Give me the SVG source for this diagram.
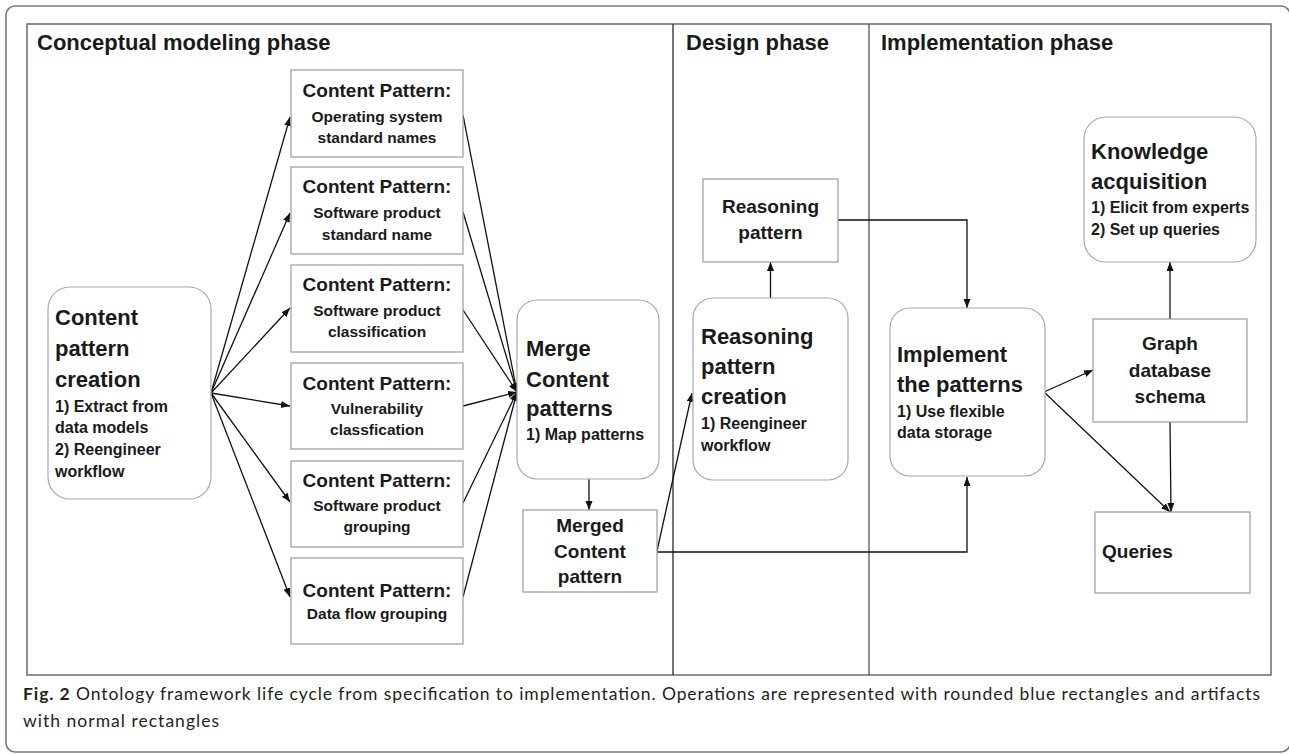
<svg xmlns="http://www.w3.org/2000/svg" width="1289" height="754" viewBox="0 0 1289 754">
  <style>
    .frame { fill: none; stroke: #6a6a6a; stroke-width: 1.5; }
    .outer { fill: none; stroke: #7a7a7a; stroke-width: 1.6; }
    .divider { stroke: #2a2a2a; stroke-width: 1.3; }
    .divider2 { stroke: #555; stroke-width: 1.3; }
    .op { fill: #fff; stroke: #a8a8a8; stroke-width: 1.2; }
    .art { fill: #fff; stroke: #9c9c9c; stroke-width: 1.2; }
    .conn { fill: none; stroke: #111; stroke-width: 1.3; }
    text { font-family: "Liberation Sans", Arial, sans-serif; font-weight: bold; fill: #1a1a1a; }
    .phase { font-size: 22px; }
    .big { font-size: 22px; }
    .mid { font-size: 19px; }
    .sub { font-size: 16px; }
    .cps { font-size: 15.5px; }
    .c { text-anchor: middle; }
    .cap { font-family: Lato, "Open Sans", "Liberation Sans", sans-serif; font-weight: normal; font-size: 17.5px; fill: #231f20; }
  </style>
  <defs>
    <marker id="arrow" markerUnits="userSpaceOnUse" markerWidth="10" markerHeight="8" refX="9" refY="3.5" orient="auto">
      <path d="M0,0 L9,3.5 L0,7 z" fill="#111"/>
    </marker>
  </defs>

  <!-- figure frame and phase lanes -->
  <rect class="outer" x="6" y="6" width="1284" height="746" rx="9"/>
  <rect class="frame" x="27" y="24" width="1244" height="651"/>
  <line class="divider" x1="673" y1="24" x2="673" y2="675"/>
  <line class="divider2" x1="869" y1="24" x2="869" y2="675"/>
  <text class="phase" x="37" y="50">Conceptual modeling phase</text>
  <text class="phase" x="686" y="50">Design phase</text>
  <text class="phase" x="881" y="50">Implementation phase</text>

  <!-- connectors -->
  <g id="connectors">
    <line class="conn" x1="211" y1="393" x2="290" y2="117" marker-end="url(#arrow)"/>
    <line class="conn" x1="211" y1="393" x2="290" y2="213" marker-end="url(#arrow)"/>
    <line class="conn" x1="211" y1="393" x2="290" y2="308" marker-end="url(#arrow)"/>
    <line class="conn" x1="211" y1="393" x2="290" y2="406" marker-end="url(#arrow)"/>
    <line class="conn" x1="211" y1="393" x2="290" y2="502" marker-end="url(#arrow)"/>
    <line class="conn" x1="211" y1="393" x2="290" y2="597" marker-end="url(#arrow)"/>

    <line class="conn" x1="463" y1="115" x2="517" y2="392" marker-end="url(#arrow)"/>
    <line class="conn" x1="463" y1="212" x2="517" y2="392" marker-end="url(#arrow)"/>
    <line class="conn" x1="463" y1="310" x2="517" y2="392" marker-end="url(#arrow)"/>
    <line class="conn" x1="463" y1="406" x2="517" y2="392" marker-end="url(#arrow)"/>
    <line class="conn" x1="463" y1="503" x2="517" y2="392" marker-end="url(#arrow)"/>
    <line class="conn" x1="463" y1="597" x2="517" y2="392" marker-end="url(#arrow)"/>

    <line class="conn" x1="589" y1="479" x2="589" y2="510" marker-end="url(#arrow)"/>
    <line class="conn" x1="657" y1="551" x2="692" y2="393" marker-end="url(#arrow)"/>
    <polyline class="conn" points="657,552 967,552 967,477" marker-end="url(#arrow)"/>
    <line class="conn" x1="770.5" y1="298" x2="770.5" y2="262" marker-end="url(#arrow)"/>
    <polyline class="conn" points="838,220 967,220 967,308" marker-end="url(#arrow)"/>
    <line class="conn" x1="1044" y1="392" x2="1093" y2="370" marker-end="url(#arrow)"/>
    <line class="conn" x1="1044" y1="392" x2="1170" y2="512" marker-end="url(#arrow)"/>
    <line class="conn" x1="1170" y1="422" x2="1171" y2="512" marker-end="url(#arrow)"/>
    <line class="conn" x1="1170" y1="319" x2="1170" y2="262" marker-end="url(#arrow)"/>
  </g>

  <!-- operations (rounded) -->
  <g id="content-pattern-creation">
    <rect class="op" x="48" y="287" width="163" height="212" rx="22"/>
    <text class="big" x="55" y="325">Content</text>
    <text class="big" x="55" y="356">pattern</text>
    <text class="big" x="55" y="387">creation</text>
    <text class="sub" x="55" y="412">1) Extract from</text>
    <text class="sub" x="55" y="433">data models</text>
    <text class="sub" x="55" y="455">2) Reengineer</text>
    <text class="sub" x="55" y="477">workflow</text>
  </g>

  <g id="merge-content-patterns">
    <rect class="op" x="517" y="300" width="142" height="179" rx="20"/>
    <text class="big" x="526" y="356">Merge</text>
    <text class="big" x="526" y="387">Content</text>
    <text class="big" x="526" y="416">patterns</text>
    <text class="sub" x="526" y="440">1) Map patterns</text>
  </g>

  <g id="reasoning-pattern-creation">
    <rect class="op" x="693" y="298" width="155" height="182" rx="20"/>
    <text class="big" x="701" y="344">Reasoning</text>
    <text class="big" x="701" y="374">pattern</text>
    <text class="big" x="701" y="404">creation</text>
    <text class="sub" x="701" y="429">1) Reengineer</text>
    <text class="sub" x="701" y="451">workflow</text>
  </g>

  <g id="implement-patterns">
    <rect class="op" x="890" y="308" width="155" height="168" rx="20"/>
    <text class="big" x="897" y="362">Implement</text>
    <text class="big" x="897" y="392">the patterns</text>
    <text class="sub" x="897" y="417">1) Use flexible</text>
    <text class="sub" x="897" y="438">data storage</text>
  </g>

  <g id="knowledge-acquisition">
    <rect class="op" x="1084" y="117" width="172" height="145" rx="22"/>
    <text class="big" x="1091" y="159">Knowledge</text>
    <text class="big" x="1091" y="189">acquisition</text>
    <text class="sub" x="1091" y="213">1) Elicit from experts</text>
    <text class="sub" x="1091" y="235">2) Set up queries</text>
  </g>

  <!-- artifacts (plain rectangles) -->
  <g id="cp-os-names">
    <rect class="art" x="291" y="70" width="172" height="87"/>
    <text class="mid c" x="377" y="97">Content Pattern:</text>
    <text class="cps c" x="377" y="122">Operating system</text>
    <text class="cps c" x="377" y="143">standard names</text>
  </g>
  <g id="cp-sw-name">
    <rect class="art" x="291" y="167" width="172" height="87"/>
    <text class="mid c" x="377" y="193">Content Pattern:</text>
    <text class="cps c" x="377" y="218">Software product</text>
    <text class="cps c" x="377" y="240">standard name</text>
  </g>
  <g id="cp-sw-classification">
    <rect class="art" x="291" y="265" width="172" height="87"/>
    <text class="mid c" x="377" y="291">Content Pattern:</text>
    <text class="cps c" x="377" y="316">Software product</text>
    <text class="cps c" x="377" y="337">classification</text>
  </g>
  <g id="cp-vuln-classification">
    <rect class="art" x="291" y="363" width="172" height="86"/>
    <text class="mid c" x="377" y="390">Content Pattern:</text>
    <text class="cps c" x="377" y="414">Vulnerability</text>
    <text class="cps c" x="377" y="435">classfication</text>
  </g>
  <g id="cp-sw-grouping">
    <rect class="art" x="291" y="461" width="172" height="86"/>
    <text class="mid c" x="377" y="487">Content Pattern:</text>
    <text class="cps c" x="377" y="511">Software product</text>
    <text class="cps c" x="377" y="532">grouping</text>
  </g>
  <g id="cp-dataflow-grouping">
    <rect class="art" x="291" y="558" width="172" height="86"/>
    <text class="mid c" x="377" y="597">Content Pattern:</text>
    <text class="cps c" x="377" y="619">Data flow grouping</text>
  </g>

  <g id="merged-content-pattern">
    <rect class="art" x="523" y="510" width="134" height="82"/>
    <text class="mid c" x="590" y="532">Merged</text>
    <text class="mid c" x="590" y="558">Content</text>
    <text class="mid c" x="590" y="583">pattern</text>
  </g>

  <g id="reasoning-pattern">
    <rect class="art" x="703" y="179" width="135" height="83"/>
    <text class="mid c" x="770.5" y="213">Reasoning</text>
    <text class="mid c" x="770.5" y="239">pattern</text>
  </g>

  <g id="graph-database-schema">
    <rect class="art" x="1093" y="319" width="154" height="103"/>
    <text class="mid c" x="1170" y="350">Graph</text>
    <text class="mid c" x="1170" y="377">database</text>
    <text class="mid c" x="1170" y="403">schema</text>
  </g>

  <g id="queries">
    <rect class="art" x="1095" y="512" width="155" height="81"/>
    <text class="mid" x="1102" y="558">Queries</text>
  </g>

  <!-- caption -->
  <text class="cap" x="23" y="700" textLength="1237" lengthAdjust="spacing"><tspan font-weight="bold">Fig. 2</tspan> Ontology framework life cycle from specification to implementation. Operations are represented with rounded blue rectangles and artifacts</text>
  <text class="cap" x="23" y="727" textLength="196" lengthAdjust="spacing">with normal rectangles</text>
</svg>
